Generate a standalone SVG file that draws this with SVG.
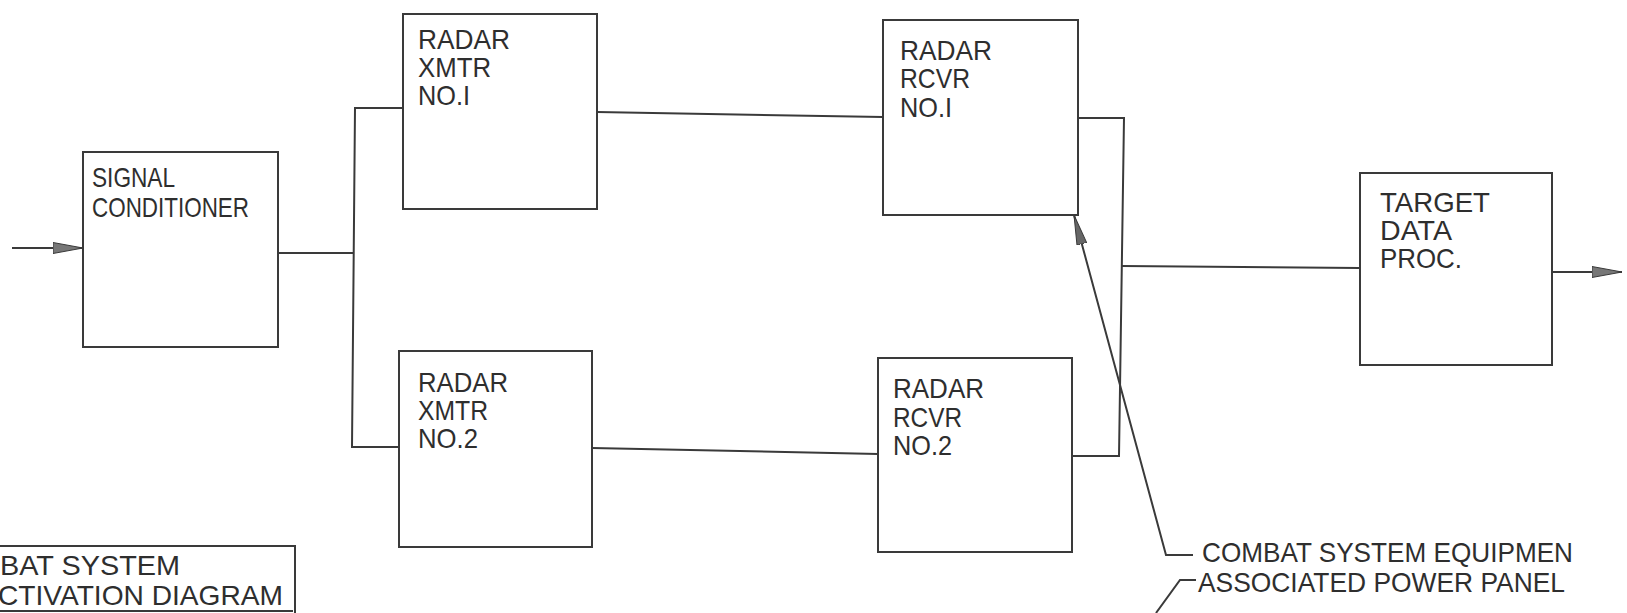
<svg xmlns="http://www.w3.org/2000/svg" width="1627" height="613" viewBox="0 0 1627 613">
<defs>
<style>
.box{fill:#fff;stroke:#3a3a3a;stroke-width:2}
.ln{fill:none;stroke:#3a3a3a;stroke-width:2}
.t{font-family:"Liberation Sans",Arial,sans-serif;font-size:28px;fill:#2e2e2e}
</style>
<marker id="ah" markerWidth="32" markerHeight="12" refX="30" refY="6" orient="auto" markerUnits="userSpaceOnUse">
<path d="M0,0.5 L30,6 L0,11.5 Z" fill="#777" stroke="#3a3a3a" stroke-width="1"/>
</marker>
<marker id="ah2" markerWidth="32" markerHeight="12" refX="30" refY="6" orient="auto" markerUnits="userSpaceOnUse">
<path d="M0,1 L30,6 L0,11 Z" fill="#666" stroke="#3a3a3a" stroke-width="1"/>
</marker>
</defs>
<rect width="1627" height="613" fill="#fff"/>
<g id="connectors">
<line class="ln" x1="12" y1="248" x2="83" y2="248" marker-end="url(#ah)"/>
<line class="ln" x1="278" y1="253" x2="354" y2="253"/>
<polyline class="ln" points="403,108 355,108 352,447 399,447"/>
<line class="ln" x1="597" y1="112" x2="883" y2="117"/>
<line class="ln" x1="592" y1="448" x2="878" y2="454"/>
<polyline class="ln" points="1078,118 1124,118 1119,456 1072,456"/>
<line class="ln" x1="1122" y1="266" x2="1360" y2="268"/>
<line class="ln" x1="1552" y1="272" x2="1622" y2="272" marker-end="url(#ah)"/>
<polyline class="ln" points="1193,555 1166,555 1074,215" marker-end="url(#ah2)"/>
<polyline class="ln" points="1196,580 1180,580 1156,613"/>
</g>
<g id="signal-conditioner">
<rect class="box" x="83" y="152" width="195" height="195"/>
<text class="t" x="92" y="187" textLength="83" lengthAdjust="spacingAndGlyphs">SIGNAL</text>
<text class="t" x="92" y="217" textLength="157" lengthAdjust="spacingAndGlyphs">CONDITIONER</text>
</g>
<g id="radar-xmtr-1">
<rect class="box" x="403" y="14" width="194" height="195"/>
<text class="t" x="418" y="49" textLength="92" lengthAdjust="spacingAndGlyphs">RADAR</text>
<text class="t" x="418" y="77" textLength="73" lengthAdjust="spacingAndGlyphs">XMTR</text>
<text class="t" x="418" y="105" textLength="52" lengthAdjust="spacingAndGlyphs">NO.I</text>
</g>
<g id="radar-xmtr-2">
<rect class="box" x="399" y="351" width="193" height="196"/>
<text class="t" x="418" y="392" textLength="90" lengthAdjust="spacingAndGlyphs">RADAR</text>
<text class="t" x="418" y="420" textLength="70" lengthAdjust="spacingAndGlyphs">XMTR</text>
<text class="t" x="418" y="448" textLength="60" lengthAdjust="spacingAndGlyphs">NO.2</text>
</g>
<g id="radar-rcvr-1">
<rect class="box" x="883" y="20" width="195" height="195"/>
<text class="t" x="900" y="60" textLength="92" lengthAdjust="spacingAndGlyphs">RADAR</text>
<text class="t" x="900" y="88" textLength="70" lengthAdjust="spacingAndGlyphs">RCVR</text>
<text class="t" x="900" y="117" textLength="52" lengthAdjust="spacingAndGlyphs">NO.I</text>
</g>
<g id="radar-rcvr-2">
<rect class="box" x="878" y="358" width="194" height="194"/>
<text class="t" x="893" y="398" textLength="91" lengthAdjust="spacingAndGlyphs">RADAR</text>
<text class="t" x="893" y="427" textLength="69" lengthAdjust="spacingAndGlyphs">RCVR</text>
<text class="t" x="893" y="455" textLength="59" lengthAdjust="spacingAndGlyphs">NO.2</text>
</g>
<g id="target-data-proc">
<rect class="box" x="1360" y="173" width="192" height="192"/>
<text class="t" x="1380" y="212" textLength="110" lengthAdjust="spacingAndGlyphs">TARGET</text>
<text class="t" x="1380" y="240" textLength="72" lengthAdjust="spacingAndGlyphs">DATA</text>
<text class="t" x="1380" y="268" textLength="82" lengthAdjust="spacingAndGlyphs">PROC.</text>
</g>
<g id="title-block">
<polyline class="ln" points="0,546 295,546 295,613"/>
<line class="ln" x1="0" y1="611" x2="293" y2="611"/>
<text class="t" x="0" y="575" textLength="180" lengthAdjust="spacingAndGlyphs">BAT SYSTEM</text>
<text class="t" x="-2" y="605" textLength="285" lengthAdjust="spacingAndGlyphs">CTIVATION DIAGRAM</text>
</g>
<g id="labels">
<text class="t" x="1202" y="562" textLength="371" lengthAdjust="spacingAndGlyphs">COMBAT SYSTEM EQUIPMEN</text>
<text class="t" x="1198" y="592" textLength="367" lengthAdjust="spacingAndGlyphs">ASSOCIATED POWER PANEL</text>
</g>
</svg>
